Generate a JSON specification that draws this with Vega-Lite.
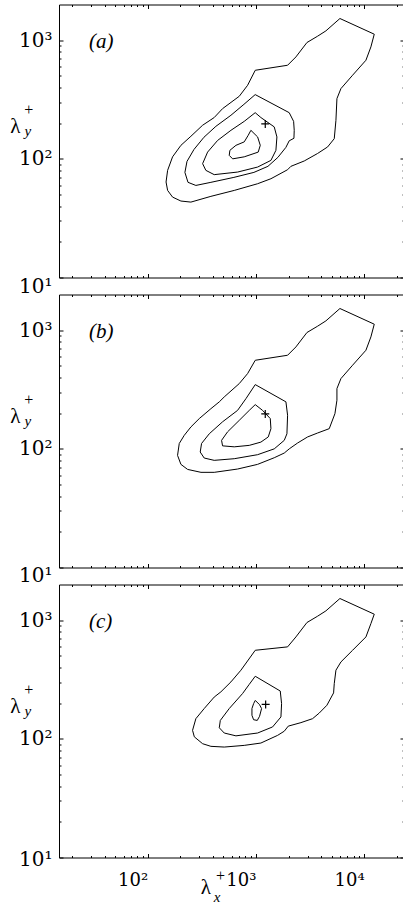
{
"$schema": "https://vega.github.io/schema/vega-lite/v6.json",
"background": "white",
"padding": {"left": 9, "top": 3.5, "right": 0, "bottom": 0},
"spacing": 17,
"bounds": "flush",
"config": {
  "view": {"stroke": "black", "strokeWidth": 1},
  "axis": {"domain": false, "grid": false, "tickColor": "black", "tickWidth": 1, "labelColor": "black", "labelFont": "DejaVu Serif", "labelOverlap": false, "labelFlush": false},
  "text": {"font": "Liberation Serif", "color": "black", "fill": "black"}
},
"datasets": {
  "ct": [
    {"p":"a","k":"a0","o":0,"x":5967,"y":1524},{"p":"a","k":"a0","o":1,"x":12380,"y":1124},{"p":"a","k":"a0","o":2,"x":11530,"y":879},{"p":"a","k":"a0","o":3,"x":10370,"y":678},{"p":"a","k":"a0","o":4,"x":7812,"y":507},{"p":"a","k":"a0","o":5,"x":6095,"y":391},{"p":"a","k":"a0","o":6,"x":5598,"y":322},{"p":"a","k":"a0","o":7,"x":5480,"y":211},{"p":"a","k":"a0","o":8,"x":5289,"y":148},{"p":"a","k":"a0","o":9,"x":4591,"y":126},{"p":"a","k":"a0","o":10,"x":3711,"y":111},{"p":"a","k":"a0","o":11,"x":2795,"y":96},{"p":"a","k":"a0","o":12,"x":2104,"y":86.5},{"p":"a","k":"a0","o":13,"x":1961,"y":81},{"p":"a","k":"a0","o":14,"x":1376,"y":68},{"p":"a","k":"a0","o":15,"x":1036,"y":61.7},{"p":"a","k":"a0","o":16,"x":631,"y":54.2},{"p":"a","k":"a0","o":17,"x":384,"y":48.3},{"p":"a","k":"a0","o":18,"x":251,"y":43.2},{"p":"a","k":"a0","o":19,"x":203,"y":44.1},{"p":"a","k":"a0","o":20,"x":170,"y":47.6},{"p":"a","k":"a0","o":21,"x":153,"y":54.2},{"p":"a","k":"a0","o":22,"x":148,"y":63.8},{"p":"a","k":"a0","o":23,"x":153,"y":80},{"p":"a","k":"a0","o":24,"x":170,"y":104},{"p":"a","k":"a0","o":25,"x":203,"y":130},{"p":"a","k":"a0","o":26,"x":251,"y":155},{"p":"a","k":"a0","o":27,"x":322,"y":192},{"p":"a","k":"a0","o":28,"x":412,"y":223},{"p":"a","k":"a0","o":29,"x":492,"y":265},{"p":"a","k":"a0","o":30,"x":702,"y":337},{"p":"a","k":"a0","o":31,"x":838,"y":417},{"p":"a","k":"a0","o":32,"x":986,"y":558},{"p":"a","k":"a0","o":33,"x":1961,"y":615},{"p":"a","k":"a0","o":34,"x":2341,"y":723},{"p":"a","k":"a0","o":35,"x":2958,"y":956},{"p":"a","k":"a0","o":36,"x":3711,"y":1081},{"p":"a","k":"a0","o":37,"x":4430,"y":1199},{"p":"a","k":"a0","o":38,"x":5967,"y":1524},
    {"p":"a","k":"a1","o":0,"x":985,"y":348},{"p":"a","k":"a1","o":1,"x":2030,"y":245},{"p":"a","k":"a1","o":2,"x":2229,"y":207},{"p":"a","k":"a1","o":3,"x":2258,"y":174},{"p":"a","k":"a1","o":4,"x":2244,"y":149},{"p":"a","k":"a1","o":5,"x":2030,"y":142},{"p":"a","k":"a1","o":6,"x":1892,"y":125},{"p":"a","k":"a1","o":7,"x":1597,"y":103},{"p":"a","k":"a1","o":8,"x":1291,"y":86.5},{"p":"a","k":"a1","o":9,"x":958,"y":76.9},{"p":"a","k":"a1","o":10,"x":626,"y":69.8},{"p":"a","k":"a1","o":11,"x":384,"y":63.4},{"p":"a","k":"a1","o":12,"x":279,"y":59.7},{"p":"a","k":"a1","o":13,"x":236,"y":63.4},{"p":"a","k":"a1","o":14,"x":221,"y":76.9},{"p":"a","k":"a1","o":15,"x":231,"y":95.2},{"p":"a","k":"a1","o":16,"x":268,"y":120},{"p":"a","k":"a1","o":17,"x":331,"y":152},{"p":"a","k":"a1","o":18,"x":427,"y":188},{"p":"a","k":"a1","o":19,"x":588,"y":233},{"p":"a","k":"a1","o":20,"x":775,"y":288},{"p":"a","k":"a1","o":21,"x":985,"y":348},
    {"p":"a","k":"a2","o":0,"x":985,"y":245},{"p":"a","k":"a2","o":1,"x":1112,"y":223},{"p":"a","k":"a2","o":2,"x":1476,"y":186},{"p":"a","k":"a2","o":3,"x":1563,"y":153},{"p":"a","k":"a2","o":4,"x":1530,"y":118},{"p":"a","k":"a2","o":5,"x":1376,"y":97.1},{"p":"a","k":"a2","o":6,"x":1037,"y":85.3},{"p":"a","k":"a2","o":7,"x":678,"y":77.4},{"p":"a","k":"a2","o":8,"x":412,"y":73.6},{"p":"a","k":"a2","o":9,"x":345,"y":80},{"p":"a","k":"a2","o":10,"x":322,"y":91.1},{"p":"a","k":"a2","o":11,"x":358,"y":114},{"p":"a","k":"a2","o":12,"x":443,"y":143},{"p":"a","k":"a2","o":13,"x":588,"y":174},{"p":"a","k":"a2","o":14,"x":780,"y":207},{"p":"a","k":"a2","o":15,"x":985,"y":245},
    {"p":"a","k":"a3","o":0,"x":899,"y":174},{"p":"a","k":"a3","o":1,"x":1037,"y":153},{"p":"a","k":"a3","o":2,"x":1097,"y":130},{"p":"a","k":"a3","o":3,"x":1050,"y":114},{"p":"a","k":"a3","o":4,"x":780,"y":104},{"p":"a","k":"a3","o":5,"x":610,"y":100},{"p":"a","k":"a3","o":6,"x":567,"y":107},{"p":"a","k":"a3","o":7,"x":575,"y":118},{"p":"a","k":"a3","o":8,"x":654,"y":130},{"p":"a","k":"a3","o":9,"x":780,"y":139},{"p":"a","k":"a3","o":10,"x":849,"y":158},{"p":"a","k":"a3","o":11,"x":899,"y":174},
    {"p":"b","k":"b0","o":0,"x":5967,"y":1524},{"p":"b","k":"b0","o":1,"x":12380,"y":1124},{"p":"b","k":"b0","o":2,"x":11530,"y":879},{"p":"b","k":"b0","o":3,"x":10370,"y":678},{"p":"b","k":"b0","o":4,"x":7812,"y":507},{"p":"b","k":"b0","o":5,"x":6095,"y":391},{"p":"b","k":"b0","o":6,"x":5598,"y":322},{"p":"b","k":"b0","o":7,"x":5598,"y":257},{"p":"b","k":"b0","o":8,"x":5365,"y":198},{"p":"b","k":"b0","o":9,"x":4755,"y":148},{"p":"b","k":"b0","o":10,"x":3711,"y":136},{"p":"b","k":"b0","o":11,"x":3000,"y":126},{"p":"b","k":"b0","o":12,"x":2425,"y":112},{"p":"b","k":"b0","o":13,"x":2032,"y":100},{"p":"b","k":"b0","o":14,"x":1827,"y":92.2},{"p":"b","k":"b0","o":15,"x":1477,"y":84.2},{"p":"b","k":"b0","o":16,"x":1036,"y":74},{"p":"b","k":"b0","o":17,"x":677,"y":67.6},{"p":"b","k":"b0","o":18,"x":412,"y":63.4},{"p":"b","k":"b0","o":19,"x":311,"y":63.4},{"p":"b","k":"b0","o":20,"x":234,"y":67.1},{"p":"b","k":"b0","o":21,"x":203,"y":74},{"p":"b","k":"b0","o":22,"x":189,"y":88.1},{"p":"b","k":"b0","o":23,"x":196,"y":111},{"p":"b","k":"b0","o":24,"x":218,"y":130},{"p":"b","k":"b0","o":25,"x":251,"y":153},{"p":"b","k":"b0","o":26,"x":300,"y":180},{"p":"b","k":"b0","o":27,"x":384,"y":218},{"p":"b","k":"b0","o":28,"x":459,"y":249},{"p":"b","k":"b0","o":29,"x":510,"y":274},{"p":"b","k":"b0","o":30,"x":702,"y":355},{"p":"b","k":"b0","o":31,"x":838,"y":431},{"p":"b","k":"b0","o":32,"x":986,"y":558},{"p":"b","k":"b0","o":33,"x":1961,"y":615},{"p":"b","k":"b0","o":34,"x":2341,"y":723},{"p":"b","k":"b0","o":35,"x":2958,"y":956},{"p":"b","k":"b0","o":36,"x":3711,"y":1081},{"p":"b","k":"b0","o":37,"x":4430,"y":1199},{"p":"b","k":"b0","o":38,"x":5967,"y":1524},
    {"p":"b","k":"b1","o":0,"x":986,"y":348},{"p":"b","k":"b1","o":1,"x":1893,"y":249},{"p":"b","k":"b1","o":2,"x":1961,"y":192},{"p":"b","k":"b1","o":3,"x":1934,"y":134},{"p":"b","k":"b1","o":4,"x":1827,"y":118},{"p":"b","k":"b1","o":5,"x":1477,"y":100},{"p":"b","k":"b1","o":6,"x":1036,"y":89.3},{"p":"b","k":"b1","o":7,"x":631,"y":82.6},{"p":"b","k":"b1","o":8,"x":412,"y":80},{"p":"b","k":"b1","o":9,"x":333,"y":83.7},{"p":"b","k":"b1","o":10,"x":306,"y":94},{"p":"b","k":"b1","o":11,"x":315,"y":111},{"p":"b","k":"b1","o":12,"x":371,"y":134},{"p":"b","k":"b1","o":13,"x":492,"y":169},{"p":"b","k":"b1","o":14,"x":677,"y":211},{"p":"b","k":"b1","o":15,"x":809,"y":265},{"p":"b","k":"b1","o":16,"x":986,"y":348},
    {"p":"b","k":"b2","o":0,"x":986,"y":236},{"p":"b","k":"b2","o":1,"x":1152,"y":211},{"p":"b","k":"b2","o":2,"x":1357,"y":180},{"p":"b","k":"b2","o":3,"x":1376,"y":148},{"p":"b","k":"b2","o":4,"x":1300,"y":126},{"p":"b","k":"b2","o":5,"x":1112,"y":114},{"p":"b","k":"b2","o":6,"x":868,"y":107},{"p":"b","k":"b2","o":7,"x":631,"y":104},{"p":"b","k":"b2","o":8,"x":492,"y":106},{"p":"b","k":"b2","o":9,"x":482,"y":118},{"p":"b","k":"b2","o":10,"x":547,"y":139},{"p":"b","k":"b2","o":11,"x":702,"y":174},{"p":"b","k":"b2","o":12,"x":868,"y":211},{"p":"b","k":"b2","o":13,"x":986,"y":236},
    {"p":"c","k":"c0","o":0,"x":5967,"y":1524},{"p":"c","k":"c0","o":1,"x":12380,"y":1124},{"p":"c","k":"c0","o":2,"x":11530,"y":937},{"p":"c","k":"c0","o":3,"x":10370,"y":723},{"p":"c","k":"c0","o":4,"x":7812,"y":558},{"p":"c","k":"c0","o":5,"x":6095,"y":445},{"p":"c","k":"c0","o":6,"x":5480,"y":379},{"p":"c","k":"c0","o":7,"x":5289,"y":292},{"p":"c","k":"c0","o":8,"x":5214,"y":244},{"p":"c","k":"c0","o":9,"x":4525,"y":192},{"p":"c","k":"c0","o":10,"x":3844,"y":165},{"p":"c","k":"c0","o":11,"x":3337,"y":148},{"p":"c","k":"c0","o":12,"x":2604,"y":137},{"p":"c","k":"c0","o":13,"x":1989,"y":128},{"p":"c","k":"c0","o":14,"x":1827,"y":116},{"p":"c","k":"c0","o":15,"x":1586,"y":107},{"p":"c","k":"c0","o":16,"x":1112,"y":92.2},{"p":"c","k":"c0","o":17,"x":780,"y":88.1},{"p":"c","k":"c0","o":18,"x":510,"y":85.3},{"p":"c","k":"c0","o":19,"x":384,"y":86.5},{"p":"c","k":"c0","o":20,"x":322,"y":91},{"p":"c","k":"c0","o":21,"x":270,"y":104},{"p":"c","k":"c0","o":22,"x":260,"y":118},{"p":"c","k":"c0","o":23,"x":279,"y":148},{"p":"c","k":"c0","o":24,"x":333,"y":180},{"p":"c","k":"c0","o":25,"x":412,"y":225},{"p":"c","k":"c0","o":26,"x":475,"y":249},{"p":"c","k":"c0","o":27,"x":588,"y":302},{"p":"c","k":"c0","o":28,"x":727,"y":379},{"p":"c","k":"c0","o":29,"x":986,"y":558},{"p":"c","k":"c0","o":30,"x":1961,"y":596},{"p":"c","k":"c0","o":31,"x":2341,"y":723},{"p":"c","k":"c0","o":32,"x":2958,"y":956},{"p":"c","k":"c0","o":33,"x":3711,"y":1081},{"p":"c","k":"c0","o":34,"x":4430,"y":1199},{"p":"c","k":"c0","o":35,"x":5967,"y":1524},
    {"p":"c","k":"c1","o":0,"x":986,"y":337},{"p":"c","k":"c1","o":1,"x":1678,"y":253},{"p":"c","k":"c1","o":2,"x":1726,"y":198},{"p":"c","k":"c1","o":3,"x":1702,"y":153},{"p":"c","k":"c1","o":4,"x":1425,"y":126},{"p":"c","k":"c1","o":5,"x":1036,"y":112},{"p":"c","k":"c1","o":6,"x":654,"y":106},{"p":"c","k":"c1","o":7,"x":510,"y":112},{"p":"c","k":"c1","o":8,"x":459,"y":124},{"p":"c","k":"c1","o":9,"x":469,"y":143},{"p":"c","k":"c1","o":10,"x":567,"y":180},{"p":"c","k":"c1","o":11,"x":753,"y":241},{"p":"c","k":"c1","o":12,"x":868,"y":288},{"p":"c","k":"c1","o":13,"x":986,"y":337},
    {"p":"c","k":"c2","o":0,"x":986,"y":211},{"p":"c","k":"c2","o":1,"x":1081,"y":194},{"p":"c","k":"c2","o":2,"x":1128,"y":180},{"p":"c","k":"c2","o":3,"x":1081,"y":155},{"p":"c","k":"c2","o":4,"x":1029,"y":143},{"p":"c","k":"c2","o":5,"x":952,"y":145},{"p":"c","k":"c2","o":6,"x":919,"y":158},{"p":"c","k":"c2","o":7,"x":919,"y":180},{"p":"c","k":"c2","o":8,"x":952,"y":198},{"p":"c","k":"c2","o":9,"x":986,"y":211}
  ],
  "mk": [{"p":"a","x":1220,"y":197},{"p":"b","x":1220,"y":197},{"p":"c","x":1230,"y":195}],
  "tag": [{"p":"a","x":28.7,"y":856,"t":"(a)"},{"p":"b","x":28.7,"y":856,"t":"(b)"},{"p":"c","x":28.7,"y":856,"t":"(c)"}],
  "lam": [{"p":"a","x":6.0,"y":164,"t":"λ"},{"p":"b","x":6.0,"y":164,"t":"λ"},{"p":"c","x":6.0,"y":164,"t":"λ"},{"p":"c","x":345,"y":4.97,"t":"λ"}],
  "sup": [{"p":"a","x":8.0,"y":233,"t":"+"},{"p":"b","x":8.0,"y":233,"t":"+"},{"p":"c","x":8.0,"y":233,"t":"+"},{"p":"c","x":470,"y":6.34,"t":"+"}],
  "sub": [{"p":"a","x":7.85,"y":155,"t":"y"},{"p":"b","x":7.85,"y":155,"t":"y"},{"p":"c","x":7.85,"y":155,"t":"y"},{"p":"c","x":437,"y":4.25,"t":"x"}]
},
"vconcat": [
  {
    "width": 345, "height": 273,
    "resolve": {"axis": {"x": "independent", "y": "independent"}},
    "layer": [
      {"data": {"name": "ct"}, "transform": [{"filter": "datum.p == 'a'"}],
       "mark": {"type": "line", "color": "black", "strokeWidth": 1},
       "encoding": {
         "x": {"field": "x", "type": "quantitative", "scale": {"type": "log", "domain": [15.2, 23300], "nice": false}, "axis": {"orient": "bottom", "title": null, "values": [20,30,40,50,60,70,80,90,100,200,300,400,500,600,700,800,900,1000,2000,3000,4000,5000,6000,7000,8000,9000,10000,20000], "labels": false, "tickSize": {"condition": {"test": "datum.value == 100 || datum.value == 1000 || datum.value == 10000", "value": -4}, "value": -2}}},
         "y": {"field": "y", "type": "quantitative", "scale": {"type": "log", "domain": [10, 2000], "nice": false}, "axis": {"orient": "left", "title": null, "values": [10,20,30,40,50,60,70,80,90,100,200,300,400,500,600,700,800,900,1000], "labelExpr": "datum.value == 10 ? '10¹' : datum.value == 100 ? '10²' : datum.value == 1000 ? '10³' : ''", "labelFontSize": 20, "labelPadding": 11, "labelBaseline": "middle", "labelOffset": {"condition": {"test": "datum.value == 10", "value": 9}, "value": 0}, "tickSize": {"condition": {"test": "datum.value == 10 || datum.value == 100 || datum.value == 1000", "value": -4}, "value": -2}}},
         "detail": {"field": "k"},
         "order": {"field": "o", "type": "quantitative"}
       }},
      {"data": {"name": "mk"}, "transform": [{"filter": "datum.p == 'a'"}],
       "mark": {"type": "point", "shape": "M-1,0L1,0M0,-1L0,1", "filled": false, "size": 64, "color": "black", "strokeWidth": 1.2, "opacity": 1},
       "encoding": {
         "x": {"field": "x", "type": "quantitative", "scale": {"type": "log", "domain": [15.2, 23300], "nice": false}, "axis": {"orient": "top", "title": null, "values": [20,30,40,50,60,70,80,90,100,200,300,400,500,600,700,800,900,1000,2000,3000,4000,5000,6000,7000,8000,9000,10000,20000], "labels": false, "tickSize": {"condition": {"test": "datum.value == 100 || datum.value == 1000 || datum.value == 10000", "value": -4}, "value": -2}}},
         "y": {"field": "y", "type": "quantitative", "scale": {"type": "log", "domain": [10, 2000], "nice": false}, "axis": {"orient": "right", "title": null, "values": [10,20,30,40,50,60,70,80,90,100,200,300,400,500,600,700,800,900,1000], "labels": false, "tickSize": {"condition": {"test": "datum.value == 10 || datum.value == 100 || datum.value == 1000", "value": -4}, "value": -2}}}
       }},
      {"data": {"name": "tag"}, "transform": [{"filter": "datum.p == 'a'"}],
       "mark": {"type": "text", "fill": "black", "fontSize": 21, "fontStyle": "italic", "align": "left", "baseline": "alphabetic"},
       "encoding": {"x": {"field": "x", "type": "quantitative", "axis": null}, "y": {"field": "y", "type": "quantitative", "axis": null}, "text": {"field": "t"}}},
      {"data": {"name": "lam"}, "transform": [{"filter": "datum.p == 'a'"}],
       "mark": {"type": "text", "fill": "black", "fontSize": 21, "align": "center", "baseline": "alphabetic"},
       "encoding": {"x": {"field": "x", "type": "quantitative", "axis": null}, "y": {"field": "y", "type": "quantitative", "axis": null}, "text": {"field": "t"}}},
      {"data": {"name": "sup"}, "transform": [{"filter": "datum.p == 'a'"}],
       "mark": {"type": "text", "fill": "black", "fontSize": 16, "align": "center", "baseline": "alphabetic"},
       "encoding": {"x": {"field": "x", "type": "quantitative", "axis": null}, "y": {"field": "y", "type": "quantitative", "axis": null}, "text": {"field": "t"}}},
      {"data": {"name": "sub"}, "transform": [{"filter": "datum.p == 'a'"}],
       "mark": {"type": "text", "fill": "black", "fontSize": 15, "fontStyle": "italic", "align": "center", "baseline": "alphabetic"},
       "encoding": {"x": {"field": "x", "type": "quantitative", "axis": null}, "y": {"field": "y", "type": "quantitative", "axis": null}, "text": {"field": "t"}}}
    ]
  },
  {
    "width": 345, "height": 273,
    "resolve": {"axis": {"x": "independent", "y": "independent"}},
    "layer": [
      {"data": {"name": "ct"}, "transform": [{"filter": "datum.p == 'b'"}],
       "mark": {"type": "line", "color": "black", "strokeWidth": 1},
       "encoding": {
         "x": {"field": "x", "type": "quantitative", "scale": {"type": "log", "domain": [15.2, 23300], "nice": false}, "axis": {"orient": "bottom", "title": null, "values": [20,30,40,50,60,70,80,90,100,200,300,400,500,600,700,800,900,1000,2000,3000,4000,5000,6000,7000,8000,9000,10000,20000], "labels": false, "tickSize": {"condition": {"test": "datum.value == 100 || datum.value == 1000 || datum.value == 10000", "value": -4}, "value": -2}}},
         "y": {"field": "y", "type": "quantitative", "scale": {"type": "log", "domain": [10, 2000], "nice": false}, "axis": {"orient": "left", "title": null, "values": [10,20,30,40,50,60,70,80,90,100,200,300,400,500,600,700,800,900,1000], "labelExpr": "datum.value == 10 ? '10¹' : datum.value == 100 ? '10²' : datum.value == 1000 ? '10³' : ''", "labelFontSize": 20, "labelPadding": 11, "labelBaseline": "middle", "labelOffset": {"condition": {"test": "datum.value == 10", "value": 8}, "value": 0}, "tickSize": {"condition": {"test": "datum.value == 10 || datum.value == 100 || datum.value == 1000", "value": -4}, "value": -2}}},
         "detail": {"field": "k"},
         "order": {"field": "o", "type": "quantitative"}
       }},
      {"data": {"name": "mk"}, "transform": [{"filter": "datum.p == 'b'"}],
       "mark": {"type": "point", "shape": "M-1,0L1,0M0,-1L0,1", "filled": false, "size": 64, "color": "black", "strokeWidth": 1.2, "opacity": 1},
       "encoding": {
         "x": {"field": "x", "type": "quantitative", "scale": {"type": "log", "domain": [15.2, 23300], "nice": false}, "axis": {"orient": "top", "title": null, "values": [20,30,40,50,60,70,80,90,100,200,300,400,500,600,700,800,900,1000,2000,3000,4000,5000,6000,7000,8000,9000,10000,20000], "labels": false, "tickSize": {"condition": {"test": "datum.value == 100 || datum.value == 1000 || datum.value == 10000", "value": -4}, "value": -2}}},
         "y": {"field": "y", "type": "quantitative", "scale": {"type": "log", "domain": [10, 2000], "nice": false}, "axis": {"orient": "right", "title": null, "values": [10,20,30,40,50,60,70,80,90,100,200,300,400,500,600,700,800,900,1000], "labels": false, "tickSize": {"condition": {"test": "datum.value == 10 || datum.value == 100 || datum.value == 1000", "value": -4}, "value": -2}}}
       }},
      {"data": {"name": "tag"}, "transform": [{"filter": "datum.p == 'b'"}],
       "mark": {"type": "text", "fill": "black", "fontSize": 21, "fontStyle": "italic", "align": "left", "baseline": "alphabetic"},
       "encoding": {"x": {"field": "x", "type": "quantitative", "axis": null}, "y": {"field": "y", "type": "quantitative", "axis": null}, "text": {"field": "t"}}},
      {"data": {"name": "lam"}, "transform": [{"filter": "datum.p == 'b'"}],
       "mark": {"type": "text", "fill": "black", "fontSize": 21, "align": "center", "baseline": "alphabetic"},
       "encoding": {"x": {"field": "x", "type": "quantitative", "axis": null}, "y": {"field": "y", "type": "quantitative", "axis": null}, "text": {"field": "t"}}},
      {"data": {"name": "sup"}, "transform": [{"filter": "datum.p == 'b'"}],
       "mark": {"type": "text", "fill": "black", "fontSize": 16, "align": "center", "baseline": "alphabetic"},
       "encoding": {"x": {"field": "x", "type": "quantitative", "axis": null}, "y": {"field": "y", "type": "quantitative", "axis": null}, "text": {"field": "t"}}},
      {"data": {"name": "sub"}, "transform": [{"filter": "datum.p == 'b'"}],
       "mark": {"type": "text", "fill": "black", "fontSize": 15, "fontStyle": "italic", "align": "center", "baseline": "alphabetic"},
       "encoding": {"x": {"field": "x", "type": "quantitative", "axis": null}, "y": {"field": "y", "type": "quantitative", "axis": null}, "text": {"field": "t"}}}
    ]
  },
  {
    "width": 345, "height": 273,
    "resolve": {"axis": {"x": "independent", "y": "independent"}},
    "layer": [
      {"data": {"name": "ct"}, "transform": [{"filter": "datum.p == 'c'"}],
       "mark": {"type": "line", "color": "black", "strokeWidth": 1},
       "encoding": {
         "x": {"field": "x", "type": "quantitative", "scale": {"type": "log", "domain": [15.2, 23300], "nice": false}, "axis": {"orient": "bottom", "title": null, "values": [20,30,40,50,60,70,80,90,100,200,300,400,500,600,700,800,900,1000,2000,3000,4000,5000,6000,7000,8000,9000,10000,20000], "labelExpr": "datum.value == 100 ? '10²' : datum.value == 1000 ? '10³' : datum.value == 10000 ? '10⁴' : ''", "labelFontSize": 18, "labelAlign": "right", "labelDx": 8, "labelBaseline": "top", "labelPadding": 17.7, "tickSize": {"condition": {"test": "datum.value == 100 || datum.value == 1000 || datum.value == 10000", "value": -4}, "value": -2}}},
         "y": {"field": "y", "type": "quantitative", "scale": {"type": "log", "domain": [10, 2000], "nice": false}, "axis": {"orient": "left", "title": null, "values": [10,20,30,40,50,60,70,80,90,100,200,300,400,500,600,700,800,900,1000], "labelExpr": "datum.value == 10 ? '10¹' : datum.value == 100 ? '10²' : datum.value == 1000 ? '10³' : ''", "labelFontSize": 20, "labelPadding": 11, "labelBaseline": "middle", "labelOffset": {"condition": {"test": "datum.value == 10", "value": 2}, "value": 0}, "tickSize": {"condition": {"test": "datum.value == 10 || datum.value == 100 || datum.value == 1000", "value": -4}, "value": -2}}},
         "detail": {"field": "k"},
         "order": {"field": "o", "type": "quantitative"}
       }},
      {"data": {"name": "mk"}, "transform": [{"filter": "datum.p == 'c'"}],
       "mark": {"type": "point", "shape": "M-1,0L1,0M0,-1L0,1", "filled": false, "size": 64, "color": "black", "strokeWidth": 1.2, "opacity": 1},
       "encoding": {
         "x": {"field": "x", "type": "quantitative", "scale": {"type": "log", "domain": [15.2, 23300], "nice": false}, "axis": {"orient": "top", "title": null, "values": [20,30,40,50,60,70,80,90,100,200,300,400,500,600,700,800,900,1000,2000,3000,4000,5000,6000,7000,8000,9000,10000,20000], "labels": false, "tickSize": {"condition": {"test": "datum.value == 100 || datum.value == 1000 || datum.value == 10000", "value": -4}, "value": -2}}},
         "y": {"field": "y", "type": "quantitative", "scale": {"type": "log", "domain": [10, 2000], "nice": false}, "axis": {"orient": "right", "title": null, "values": [10,20,30,40,50,60,70,80,90,100,200,300,400,500,600,700,800,900,1000], "labels": false, "tickSize": {"condition": {"test": "datum.value == 10 || datum.value == 100 || datum.value == 1000", "value": -4}, "value": -2}}}
       }},
      {"data": {"name": "tag"}, "transform": [{"filter": "datum.p == 'c'"}],
       "mark": {"type": "text", "fill": "black", "fontSize": 21, "fontStyle": "italic", "align": "left", "baseline": "alphabetic"},
       "encoding": {"x": {"field": "x", "type": "quantitative", "axis": null}, "y": {"field": "y", "type": "quantitative", "axis": null}, "text": {"field": "t"}}},
      {"data": {"name": "lam"}, "transform": [{"filter": "datum.p == 'c'"}],
       "mark": {"type": "text", "fill": "black", "fontSize": 21, "align": "center", "baseline": "alphabetic"},
       "encoding": {"x": {"field": "x", "type": "quantitative", "axis": null}, "y": {"field": "y", "type": "quantitative", "axis": null}, "text": {"field": "t"}}},
      {"data": {"name": "sup"}, "transform": [{"filter": "datum.p == 'c'"}],
       "mark": {"type": "text", "fill": "black", "fontSize": 16, "align": "center", "baseline": "alphabetic"},
       "encoding": {"x": {"field": "x", "type": "quantitative", "axis": null}, "y": {"field": "y", "type": "quantitative", "axis": null}, "text": {"field": "t"}}},
      {"data": {"name": "sub"}, "transform": [{"filter": "datum.p == 'c'"}],
       "mark": {"type": "text", "fill": "black", "fontSize": 15, "fontStyle": "italic", "align": "center", "baseline": "alphabetic"},
       "encoding": {"x": {"field": "x", "type": "quantitative", "axis": null}, "y": {"field": "y", "type": "quantitative", "axis": null}, "text": {"field": "t"}}}
    ]
  }
]
}
